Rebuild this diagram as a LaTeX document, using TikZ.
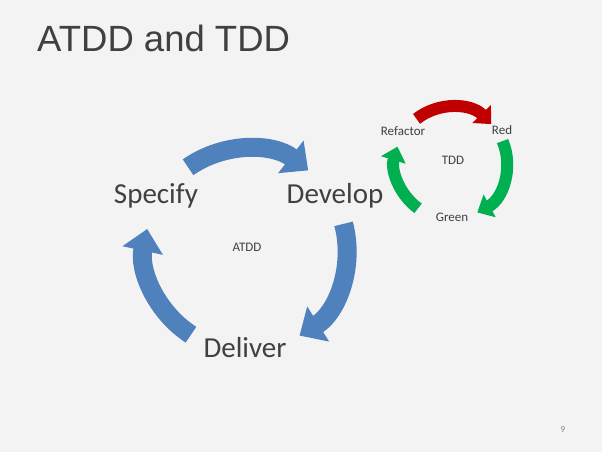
\documentclass[tikz,border=0pt]{standalone}
\usepackage{fontspec}
\setmainfont{Carlito}
\newfontfamily\titlefont{Liberation Sans}
\usetikzlibrary{arrows.meta}
\definecolor{slidebg}{HTML}{F3F3F3}
\definecolor{slidetext}{HTML}{404040}
\definecolor{atddblue}{HTML}{4F81BD}
\definecolor{tddred}{HTML}{C00000}
\definecolor{tddgreen}{HTML}{00B050}
\tikzset{
	bigstage/.style={text=slidetext, inner sep=0pt, anchor=base, font=\fontsize{29}{35}\selectfont},
	smallstage/.style={text=slidetext, inner sep=0pt, font=\fontsize{13}{15}\selectfont},
	atddarrow/.style={draw=atddblue, line width=19pt, -{Triangle[length=22pt,width=40pt]}},
	tddarrow/.style={line width=12pt, -{Triangle[length=14pt,width=25pt]}}
}
\begin{document}
\begin{tikzpicture}[x=1pt, y=1pt]
		% Slide
		\fill[slidebg] (0,0) rectangle (602,452);
		\node[anchor=base west, inner sep=0pt, text=slidetext, font=\titlefont\fontsize{36.5}{42}\selectfont] (title) at (37,400) {ATDD and TDD};
		\node[text=gray, font=\fontsize{9}{10}\selectfont] (page) at (563,22) {9};
		
		% ATDD cycle
		\coordinate (atdd) at (246,202);
		\node[bigstage] (specify) at (156,248) {Specify};
		\node[bigstage] (develop) at (335,248) {Develop};
		\node[bigstage] (deliver) at (245,94) {Deliver};
		\node[smallstage] (atddlabel) at (247,205) {ATDD};
		
		% Draw arrows of ATDD cycle
		\foreach \a/\b in {125/52, 15/-58, 237/168}
		\draw[atddarrow] (atdd) ++(\a:101) arc[start angle=\a, end angle=\b, radius=101];
		
		% TDD cycle
		\coordinate (tdd) at (451,289);
		\node[smallstage] (refactor) at (403,321) {Refactor};
		\node[smallstage] (red) at (502,322) {Red};
		\node[smallstage] (green) at (452,235) {Green};
		\node[smallstage] (tddlabel) at (453,292) {TDD};
		
		% Draw arrows of TDD cycle
		\draw[tddarrow, draw=tddred] (tdd) ++(128:56) arc[start angle=128, end angle=44, radius=56];
		\foreach \a/\b in {23/-62, 234/163}
		\draw[tddarrow, draw=tddgreen] (tdd) ++(\a:56) arc[start angle=\a, end angle=\b, radius=56];
	\end{tikzpicture}
\end{document}
